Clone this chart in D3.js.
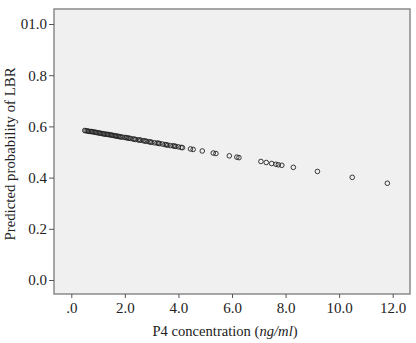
<!DOCTYPE html>
<html><head><meta charset="utf-8">
<script src="https://cdn.jsdelivr.net/npm/d3@7"></script>
<style>html,body{margin:0;padding:0;background:#fff;}svg{display:block;}</style>
</head><body>
<script>
const p4Concentration = [0.50,0.55,0.60,0.65,0.70,0.75,0.80,0.85,0.90,0.95,1.00,1.05,1.10,1.15,1.20,1.25,1.30,1.35,1.40,1.45,1.50,1.55,1.60,1.65,1.70,1.75,1.80,1.85,1.90,2.00,2.05,2.10,2.15,2.20,2.30,2.35,2.40,2.50,2.55,2.60,2.70,2.75,2.80,2.90,2.95,3.00,3.10,3.20,3.25,3.30,3.40,3.50,3.55,3.60,3.70,3.80,3.85,3.90,4.00,4.10,4.15,4.45,4.55,4.89,5.30,5.40,5.90,6.18,6.26,7.08,7.28,7.48,7.64,7.73,7.86,8.29,9.19,10.49,11.80];
const predictedProb = [0.584,0.583,0.582,0.581,0.580,0.580,0.579,0.578,0.577,0.576,0.575,0.574,0.573,0.572,0.571,0.570,0.569,0.569,0.568,0.567,0.566,0.565,0.564,0.563,0.562,0.561,0.560,0.559,0.558,0.557,0.556,0.555,0.554,0.553,0.551,0.550,0.549,0.547,0.547,0.546,0.544,0.543,0.542,0.540,0.539,0.538,0.536,0.535,0.534,0.533,0.531,0.529,0.528,0.527,0.525,0.524,0.523,0.522,0.520,0.518,0.517,0.512,0.510,0.504,0.496,0.494,0.485,0.480,0.478,0.463,0.459,0.455,0.452,0.450,0.448,0.440,0.424,0.401,0.378];
const xTicks = [0,2,4,6,8,10,12];
const xTickLabels = [".0","2.0","4.0","6.0","8.0","10.0","12.0"];
const yTicks = [0,0.2,0.4,0.6,0.8,1.0];
const yTickLabels = ["0.0","0.2","0.4","0.6","0.8","01.0"];
const xTitle = "P4 concentration (";
const xTitleItalic = "ng/ml";
const yTitle = "Predicted probability of LBR";

const W = 416, H = 343;
const L = 54, R = 410, T = 9, B = 294;
const svg = d3.select("body").append("svg").attr("width", W).attr("height", H);
const x = d3.scaleLinear().domain([0, 12]).range([71.3, 392.7]);
const y = d3.scaleLinear().domain([0, 1]).range([280, 24]);
const font = "'Liberation Serif','Times New Roman',serif";

svg.append("rect").attr("x", L).attr("y", T).attr("width", R - L).attr("height", B - T)
  .attr("fill", "#f0f0f0").attr("stroke", "#8a8a8a").attr("stroke-width", 1.5);

const xAxis = d3.axisBottom(x).tickValues(xTicks).tickSize(4).tickPadding(4)
  .tickFormat((d, i) => xTickLabels[i]);
const gx = svg.append("g").attr("transform", `translate(0,${B})`).call(xAxis);
gx.select(".domain").remove();
gx.selectAll("line").attr("stroke", "#555");
gx.selectAll("text").attr("font-family", font).attr("font-size", 15).attr("fill", "#222");

const yAxis = d3.axisLeft(y).tickValues(yTicks).tickSize(5).tickPadding(2)
  .tickFormat((d, i) => yTickLabels[i]);
const gy = svg.append("g").attr("transform", `translate(${L},0)`).call(yAxis);
gy.select(".domain").remove();
gy.selectAll("line").attr("stroke", "#555");
gy.selectAll("text").attr("font-family", font).attr("font-size", 15).attr("fill", "#222");

svg.append("g").selectAll("circle").data(p4Concentration).join("circle")
  .attr("cx", d => x(d)).attr("cy", (d, i) => y(predictedProb[i]))
  .attr("r", 2.3).attr("fill", "none").attr("stroke", "#222").attr("stroke-width", 0.9);

const xt = svg.append("text").attr("x", 225).attr("y", 336).attr("text-anchor", "middle")
  .attr("font-family", font).attr("font-size", 14.6).attr("fill", "#222");
xt.append("tspan").text(xTitle);
xt.append("tspan").attr("font-style", "italic").text(xTitleItalic);
xt.append("tspan").text(")");

svg.append("text").attr("transform", "translate(15,154) rotate(-90)").attr("text-anchor", "middle")
  .attr("font-family", font).attr("font-size", 14.8).attr("fill", "#222").text(yTitle);
</script>
</body></html>
